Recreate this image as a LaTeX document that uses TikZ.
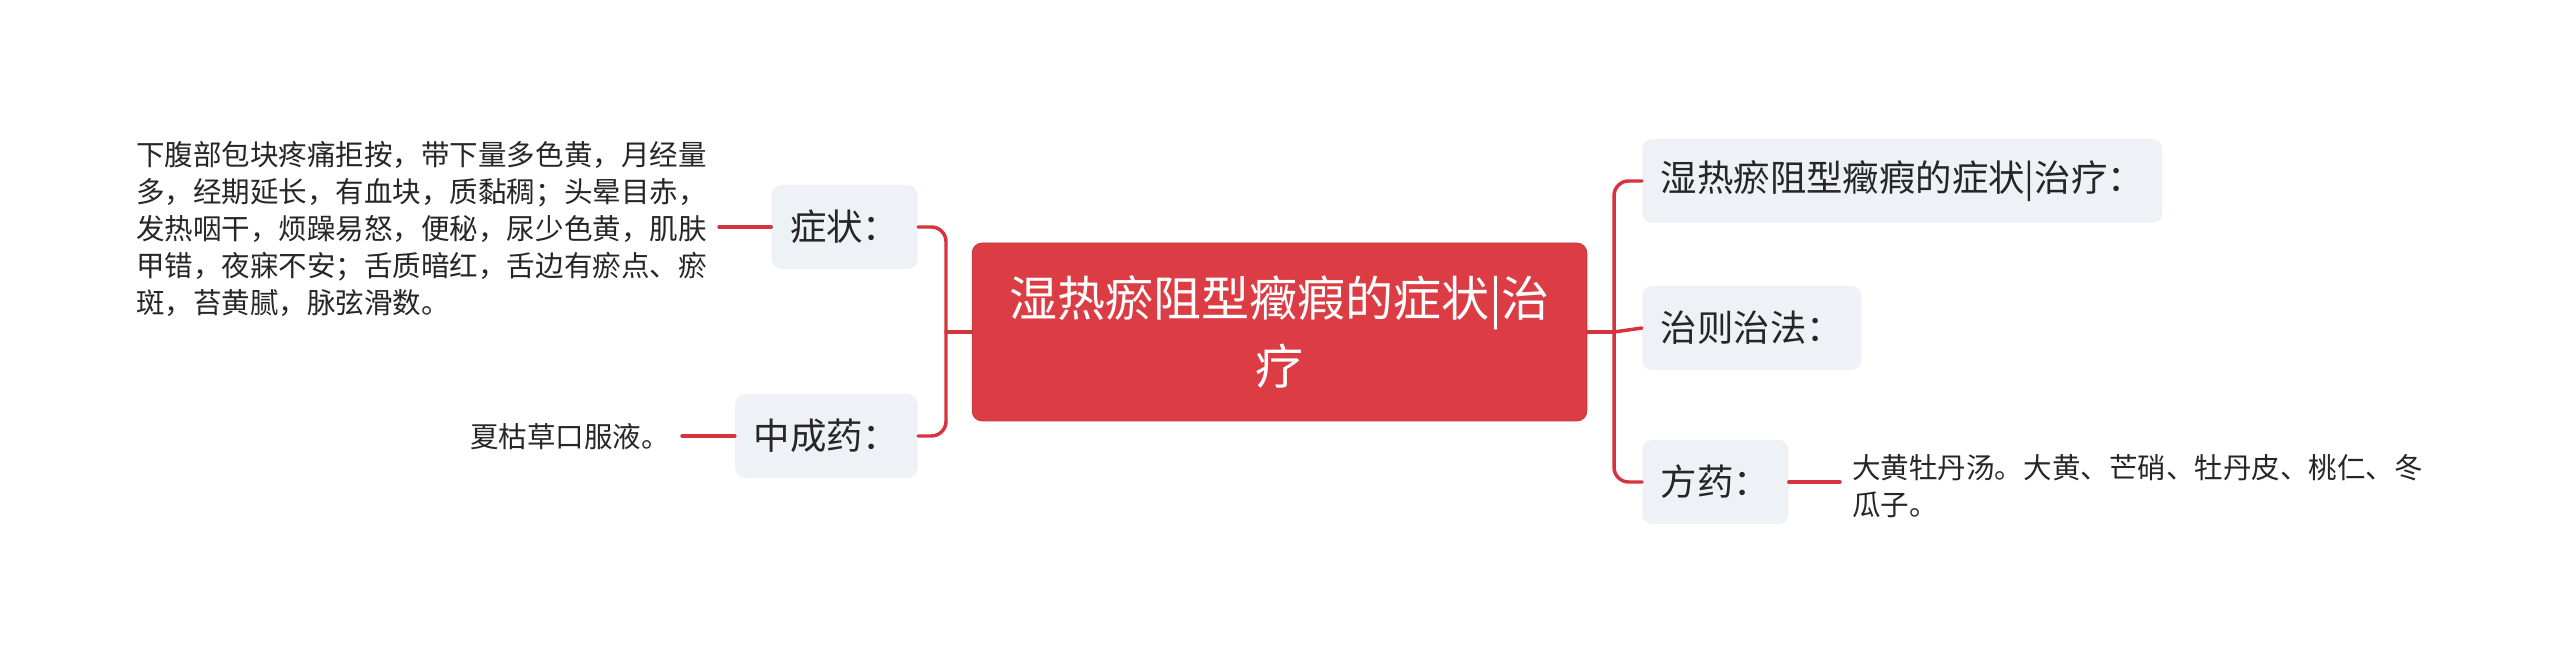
\documentclass[tikz,border=0pt]{standalone}
\usepackage{fontspec}
\setmainfont{Noto Sans CJK SC}
\definecolor{rootred}{HTML}{DC3C44}
\definecolor{linkred}{HTML}{D5343E}
\definecolor{boxgray}{HTML}{EEF1F5}
\definecolor{txt}{HTML}{262626}
\begin{document}
\begin{tikzpicture}[x=0.75pt,y=-0.75pt,line join=round,line cap=round,
	root/.style={fill=rootred,draw=rootred!90!black,line width=0.6pt,rounded corners=7.5pt,text=white,align=center,
		minimum width=461pt,minimum height=133.5pt,font=\fontsize{36pt}{51pt}\selectfont},
	topic/.style={fill=boxgray,rounded corners=7.5pt,text=txt,inner xsep=13.9pt,inner ysep=0pt,
		minimum height=63pt,font=\fontsize{27.3pt}{32pt}\selectfont},
	leaf/.style={text=txt,align=left,inner xsep=9pt,inner ysep=0pt,font=\fontsize{21.4pt}{27.75pt}\selectfont},
	link/.style={draw=linkred,line width=2.6pt}]
	\useasboundingbox (0,0) rectangle (2560,655);
	% centre
	\node[root] (root) at (1279.5,332) {湿热瘀阻型癥瘕的症状|治\\疗};
	% left side
	\node[topic,anchor=east] (zz) at (918,227) {症状：};
	\node[topic,anchor=east] (zcy) at (918,436) {中成药：};
	\node[leaf,anchor=east] (symp) at (719,229) {下腹部包块疼痛拒按，带下量多色黄，月经量\\多，经期延长，有血块，质黏稠；头晕目赤，\\发热咽干，烦躁易怒，便秘，尿少色黄，肌肤\\甲错，夜寐不安；舌质暗红，舌边有瘀点、瘀\\斑，苔黄腻，脉弦滑数。};
	\node[leaf,anchor=east] (xkc) at (682,437) {夏枯草口服液。};
	% right side
	\node[topic,anchor=west] (zl) at (1642,181) {湿热瘀阻型癥瘕的症状|治疗：};
	\node[topic,anchor=west] (zf) at (1642,328) {治则治法：};
	\node[topic,anchor=west] (fy) at (1642,482) {方药：};
	\node[leaf,anchor=west] (fyt) at (1840,486) {大黄牡丹汤。大黄、芒硝、牡丹皮、桃仁、冬\\瓜子。};
	% connectors
	\coordinate (lj) at (946,332);
	\coordinate (rj) at (1614,332);
	\draw[link] (root.west) -- (lj);
	\draw[link,rounded corners=11pt] (lj) |- (zz.east);
	\draw[link,rounded corners=11pt] (lj) |- (zcy.east);
	\draw[link] (root.east) -- (rj);
	\draw[link,rounded corners=11pt] (rj) |- (zl.west);
	\draw[link] (rj) -- (zf.west);
	\draw[link,rounded corners=11pt] (rj) |- (fy.west);
	\draw[link] (zz.west) -- (zz.west -| symp.east);
	\draw[link] (zcy.west) -- (zcy.west -| xkc.east);
	\draw[link] (fy.east) -- (fy.east -| fyt.west);
\end{tikzpicture}
\end{document}
